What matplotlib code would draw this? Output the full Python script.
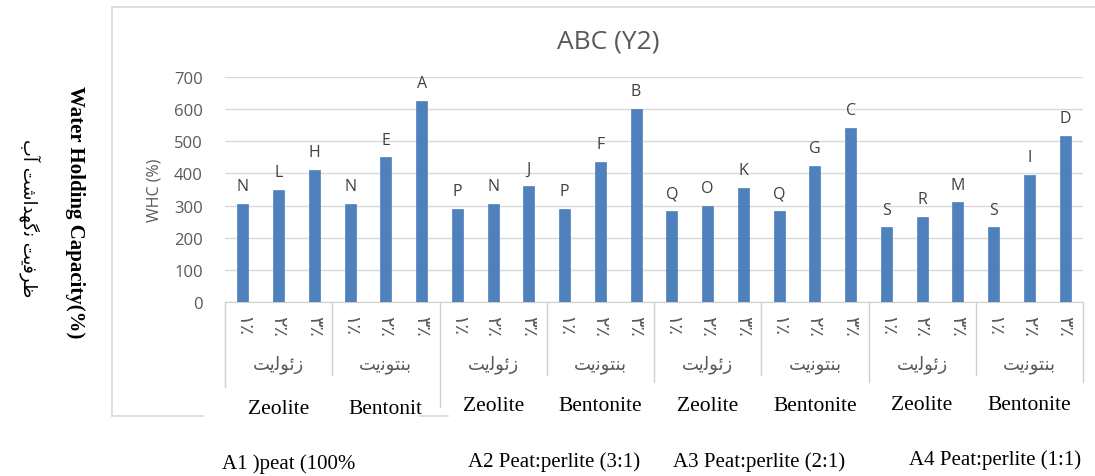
import matplotlib
matplotlib.use("Agg")
import matplotlib.pyplot as plt
import matplotlib.transforms as mtransforms
import numpy as np

# ---------------- data ----------------
values = [305, 348, 410, 305, 450, 626,
          290, 305, 360, 290, 435, 600,
          283, 300, 356, 283, 424, 542,
          232, 265, 310, 232, 395, 518]
letters = ["N", "L", "H", "N", "E", "A",
           "P", "N", "J", "P", "F", "B",
           "Q", "O", "K", "Q", "G", "C",
           "S", "R", "M", "S", "I", "D"]
level_labels = ["\u06F1\u066A", "\u06F2\u066A", "\u06F3\u066A"]
# shaped (presentation forms, visual order) for زئولیت / بنتونیت
additive_labels_fa = ["\uFE96\uFBFE\uFEDF\uFEEE\uFE8B\uFEAF",
                      "\uFE96\uFBFE\uFEE7\uFEEE\uFE98\uFEE8\uFE91"]
additive_labels_en = [["Zeolite", "Bentonit"], ["Zeolite", "Bentonite"],
                      ["Zeolite", "Bentonite"], ["Zeolite", "Bentonite"]]
substrate_labels = ["A1 )peat (100%", "A2 Peat:perlite (3:1)",
                    "A3 Peat:perlite (2:1)", "A4 Peat:perlite (1:1)"]
title = "ABC (Y2)"
ylabel = "WHC (%)"
ylabel_en = "Water Holding Capacity(%)"
# ظرفیت نگهداشت آب (shaped, visual order)
ylabel_fa = "\uFE8F\uFE81 \uFE96\uFEB7\uFE8D\uFEAA\uFEEC\uFB94\uFEE7 \uFE96\uFBFE\uFED3\uFEAE\uFEC7"

W, H = 1095, 477
fig = plt.figure(figsize=(W / 100, H / 100), dpi=100)

def fx(px):
    return px / W

def fy(py):
    return 1 - py / H

gray = "#595959"
grid = "#d9d9d9"
axis_gray = "#d0d0d0"

ax = fig.add_axes([fx(225), fy(303), fx(1083) - fx(225), fy(78) - fy(303)])
n = len(values)
x = np.arange(n)
ax.bar(x, values, width=0.31, color="#4f81bd", edgecolor="#4f81bd", linewidth=0.5, zorder=3)
ax.set_xlim(-0.5, n - 0.5)
ax.set_ylim(0, 700)
ax.set_yticks(np.arange(0, 701, 100))
ax.yaxis.grid(True, color=grid, linewidth=1)
ax.set_axisbelow(True)
for s in ["top", "right", "left"]:
    ax.spines[s].set_visible(False)
ax.spines["bottom"].set_color(axis_gray)
ax.tick_params(axis="y", length=0, labelsize=12, labelcolor=gray, pad=16)
ax.tick_params(axis="x", length=0)
ax.set_xticks([])
for lab in ax.get_yticklabels():
    lab.set_fontfamily("Open Sans")

for xi, v, l in zip(x, values, letters):
    ax.annotate(l, (xi, v), xytext=(0, 7), textcoords="offset points",
                ha="center", va="bottom", fontsize=11.5, color="#404040",
                family="Open Sans")

fig.text(fx(608), fy(42), title, ha="center", va="center", fontsize=19,
         color=gray, family="Open Sans")
ax.set_ylabel(ylabel, fontsize=11.5, color=gray, family="Open Sans", labelpad=8)

# multi-level category axis
blend = mtransforms.blended_transform_factory(ax.transData, fig.transFigure)
for i in range(0, n + 1, 3):
    xb = i - 0.5
    if i % 6 == 0:
        end = 383
        if i == 0:
            end = 388
        if i == 6:
            end = 408
    else:
        end = 376
    ax.plot([xb, xb], [fy(303), fy(end)], transform=blend, color=axis_gray,
            linewidth=1, clip_on=False)

for xi in x:
    ax.text(xi, fy(326), level_labels[xi % 3], transform=blend, rotation=270,
            ha="center", va="center", fontsize=14, color=gray,
            family=["DejaVu Sans"])

for g in range(n // 3):
    xc = g * 3 + 1
    ax.text(xc, fy(365), additive_labels_fa[g % 2], transform=blend,
            ha="center", va="center", fontsize=13, color=gray,
            family=["DejaVu Sans"])

# English labels under the axis
en_y = [410, 407, 407, 405]
for k in range(4):
    for j in range(2):
        xc = k * 6 + j * 3 + 1
        ax.text(xc, fy(en_y[k]), additive_labels_en[k][j], transform=blend,
                ha="center", va="center", fontsize=15.5, color="black",
                family="Liberation Serif")

sub_x = [222, 468, 673, 909]
sub_y = [464, 462, 462, 460]
for k in range(4):
    fig.text(fx(sub_x[k]), fy(sub_y[k]), substrate_labels[k], ha="left", va="center",
             fontsize=15, color="black", family="Liberation Serif")

# chart area border (visible parts)
border = "#d9d9d9"
fig.add_artist(plt.Line2D([fx(112), fx(112)], [fy(8), fy(417)], color=border, linewidth=1.2))
fig.add_artist(plt.Line2D([fx(112), fx(1095)], [fy(8), fy(8)], color=border, linewidth=1.2))
fig.add_artist(plt.Line2D([fx(112), fx(203)], [fy(417), fy(417)], color=border, linewidth=1.2))
fig.add_artist(plt.Line2D([fx(420), fx(448)], [fy(417), fy(417)], color=border, linewidth=1.2))

# outer axis titles
fig.text(fx(75), fy(212), ylabel_en, rotation=270, ha="center", va="center",
         fontsize=15, fontweight="bold", color="black", family="Liberation Serif")
fig.text(fx(30), fy(218), ylabel_fa, rotation=270, ha="center", va="center",
         fontsize=13, color="black", family=["DejaVu Sans"])

fig.savefig("out.png", dpi=100)
